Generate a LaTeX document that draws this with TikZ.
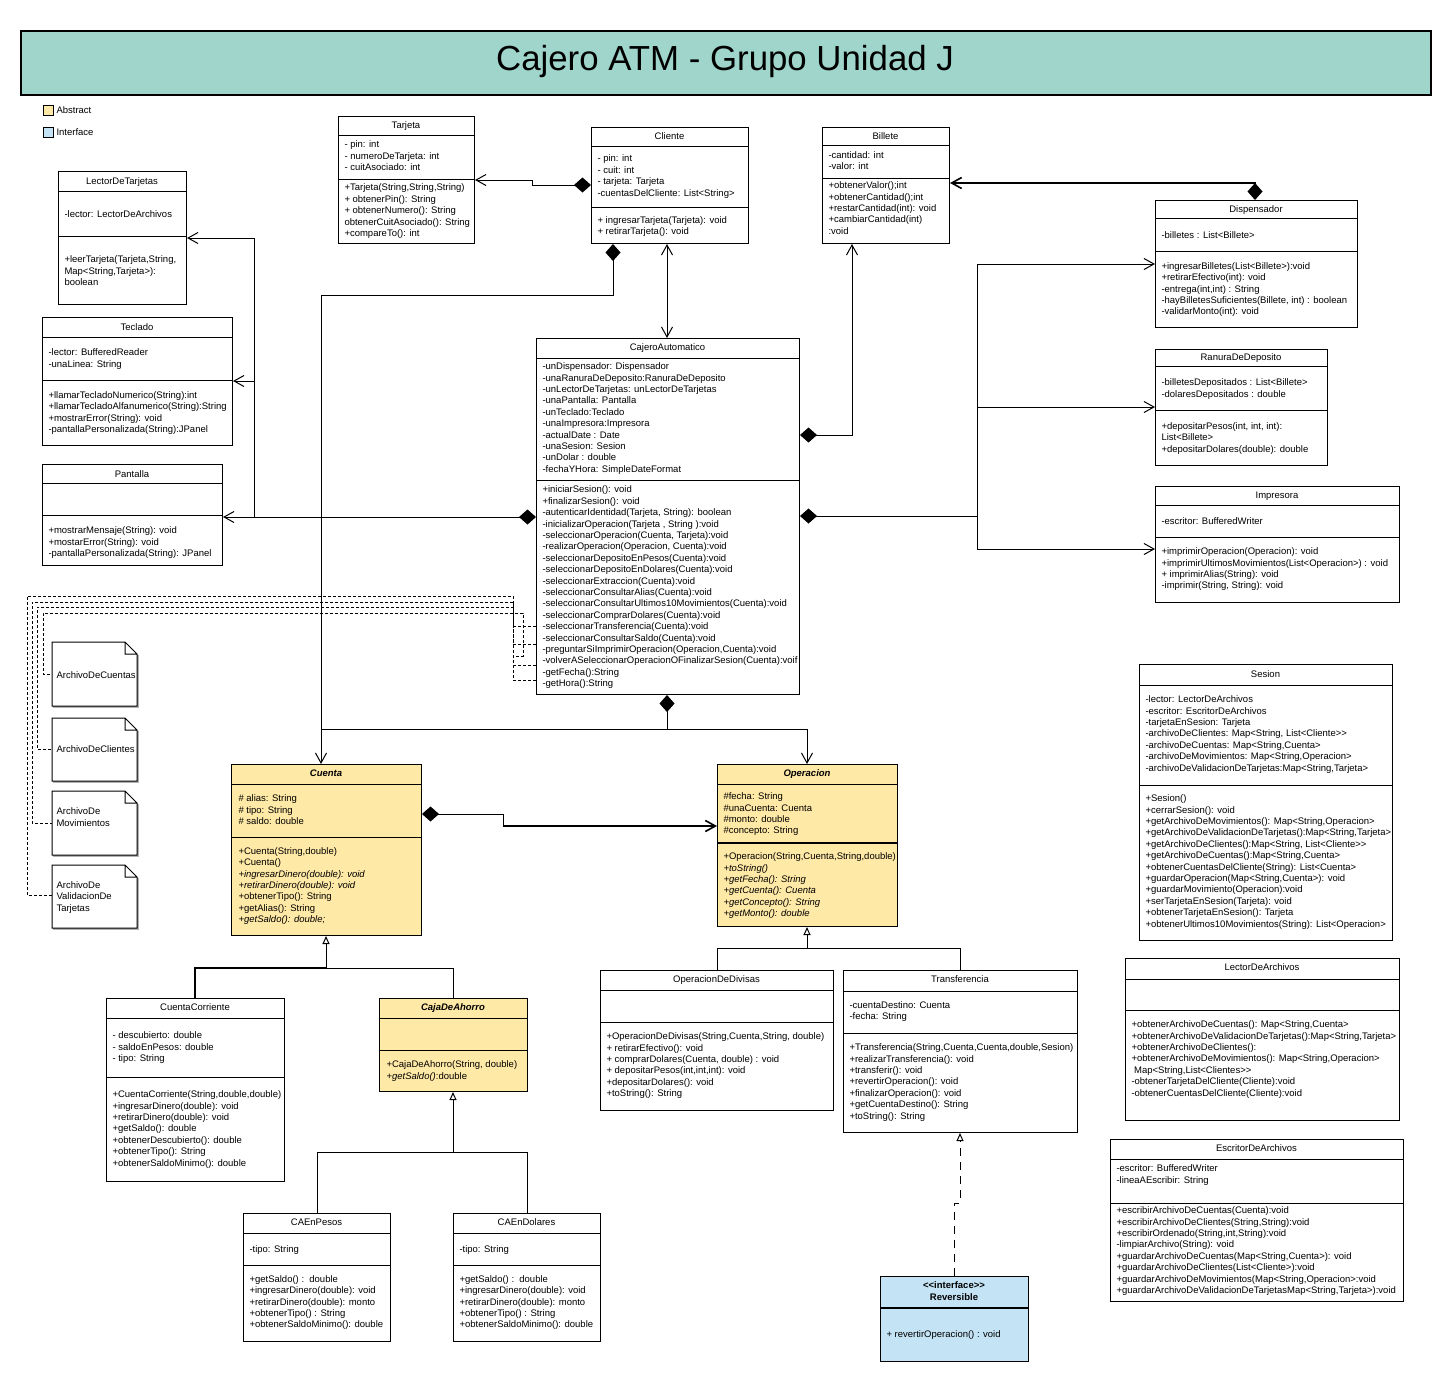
\documentclass[tikz,border=0pt]{standalone}
\usepackage{fontspec}
\setmainfont{Liberation Sans}
\usetikzlibrary{arrows.meta}

\definecolor{titlecol}{HTML}{9FD5CB}
\definecolor{abstractcol}{HTML}{FFE9A6}
\definecolor{interfacecol}{HTML}{C4E3F5}

% clase: nombre, relleno, x1, y1, x2, y2, separador 1, separador 2
\newcommand{\umlclass}[8]{%
  \node (#1) at (#3,#4) [classbox, fill=#2, minimum width={(#5-#3)*1pt}, minimum height={(#6-#4)*1pt}] {};
  \draw (#3,#7) -- (#5,#7) (#3,#8) -- (#5,#8);
}
% archivo: nombre, x1, y1, x2, y2
\newcommand{\umlfile}[5]{%
  \node (#1) at (#2,#3) [classbox, draw=none, minimum width={(#4-#2)*1pt}, minimum height={(#5-#3)*1pt}] {};
  \draw[filesh] (#4+1,#3+13) -- (#4+1,#5+1) -- (#2+1,#5+1);
  \draw (#2,#3) -- (#4-12,#3) -- (#4,#3+12) -- (#4,#5) -- (#2,#5) -- cycle
        (#4-12,#3) -- (#4-12,#3+12) -- (#4,#3+12);
}

\begin{document}
\begin{tikzpicture}[x=1pt, y=-1pt, line width=1pt,
  font=\fontsize{9.5}{11.4}\selectfont,
  classbox/.style={rectangle, draw, anchor=north west, inner sep=0pt},
  cname/.style={anchor=base, inner sep=0pt, yshift=-3.3pt},
  members/.style={anchor=north west, inner sep=0pt, align=left, yshift=3.7pt, execute at begin node=\strut},
  stereo/.style={anchor=north, inner sep=0pt, align=center, yshift=3.7pt, execute at begin node=\strut, font=\fontsize{9.5}{11.4}\selectfont\bfseries},
  comp/.style={{Diamond[length=17pt,width=15pt]}-{Straight Barb[length=10pt,width=11pt]}},
  diam/.style={{Diamond[length=17pt,width=15pt]}-},
  assoc/.style={-{Straight Barb[length=10pt,width=11pt]}},
  bothassoc/.style={{Straight Barb[length=10pt,width=11pt]}-{Straight Barb[length=10pt,width=11pt]}},
  inherit/.style={-{Triangle[open,length=8pt,width=7pt]}},
  realize/.style={inherit, dash pattern=on 8pt off 6pt},
  dep/.style={dash pattern=on 3pt off 2pt},
  filesh/.style={draw=black!30, line width=1.5pt}]

\useasboundingbox[fill=white] (0,0) rectangle (1451,1382);

% titulo y leyenda
\node (titlebar) at (20,30) [classbox, fill=titlecol, line width=1.5pt, minimum width=1410pt, minimum height=64pt] {};
\node (title) at (725,70) [anchor=base, inner sep=0pt] {\fontsize{34.8}{40}\selectfont Cajero ATM - Grupo Unidad J};
\node (abstractkey) at (43,105) [classbox, fill=abstractcol, minimum size=10pt, line width=0.8pt] {};
\node (abstractlbl) at (56,110) [anchor=west, inner sep=0pt] {Abstract};
\node (interfacekey) at (43,127) [classbox, fill=interfacecol, minimum size=10pt, line width=0.8pt] {};
\node (interfacelbl) at (56,132) [anchor=west, inner sep=0pt] {Interface};

% Tarjeta
\umlclass{tarjeta}{white}{338}{116}{474}{243}{135}{179}
\node (tarjeta-n) at (406,125.5) [cname] {Tarjeta};
\node (tarjeta-a) at (344,144) [members] {- pin: int\\- numeroDeTarjeta: int\\- cuitAsociado: int};
\node (tarjeta-m) at (344,187.3) [members] {+Tarjeta(String,String,String)\\+ obtenerPin(): String\\+ obtenerNumero(): String\\obtenerCuitAsociado(): String\\+compareTo(): int};

% LectorDeTarjetas
\umlclass{lectortarjetas}{white}{58}{171}{186}{304}{191}{236}
\node (lectortarjetas-n) at (122,181) [cname] {LectorDeTarjetas};
\node (lectortarjetas-a) at (64,213) [members] {-lector: LectorDeArchivos};
\node (lectortarjetas-m) at (64,259.3) [members] {+leerTarjeta(Tarjeta,String,\\Map<String,Tarjeta>):\\boolean};

% Cliente
\umlclass{cliente}{white}{591}{127}{748}{243}{146}{207}
\node (cliente-n) at (669.5,136) [cname] {Cliente};
\node (cliente-a) at (597,158.3) [members] {- pin: int\\- cuit: int\\- tarjeta: Tarjeta\\-cuentasDelCliente: List<String>};
\node (cliente-m) at (597,219.5) [members] {+ ingresarTarjeta(Tarjeta): void\\+ retirarTarjeta(): void};

% Billete
\umlclass{billete}{white}{822}{127}{949}{243}{145.5}{178.5}
\node (billete-n) at (885.5,136) [cname] {Billete};
\node (billete-a) at (828,154.5) [members] {-cantidad: int\\-valor: int};
\node (billete-m) at (828,185) [members] {+obtenerValor();int\\+obtenerCantidad();int\\+restarCantidad(int): void\\+cambiarCantidad(int)\\:void};

% Dispensador
\umlclass{dispensador}{white}{1155}{200}{1357}{327}{218.5}{251.5}
\node (dispensador-n) at (1256,209) [cname] {Dispensador};
\node (dispensador-a) at (1161,233.7) [members] {-billetes : List<Billete>};
\node (dispensador-m) at (1161,265.7) [members] {+ingresarBilletes(List<Billete>):void\\+retirarEfectivo(int): void\\-entrega(int,int) : String\\-hayBilletesSuficientes(Billete, int) : boolean\\-validarMonto(int): void};

% RanuraDeDeposito
\umlclass{ranura}{white}{1155}{349}{1327}{465}{366}{410}
\node (ranura-n) at (1241,357) [cname] {RanuraDeDeposito};
\node (ranura-a) at (1161,382.3) [members] {-billetesDepositados : List<Billete>\\-dolaresDepositados : double};
\node (ranura-m) at (1161,425.7) [members] {+depositarPesos(int, int, int):\\List<Billete>\\+depositarDolares(double): double};

% Impresora
\umlclass{impresora}{white}{1155}{486}{1399}{602}{505}{537}
\node (impresora-n) at (1277,495) [cname] {Impresora};
\node (impresora-a) at (1161,520) [members] {-escritor: BufferedWriter};
\node (impresora-m) at (1161,551) [members] {+imprimirOperacion(Operacion): void\\+imprimirUltimosMovimientos(List<Operacion>) : void\\+ imprimirAlias(String): void\\-imprimir(String, String): void};

% Teclado
\umlclass{teclado}{white}{42}{317}{232}{445}{337.5}{380.5}
\node (teclado-n) at (137,327) [cname] {Teclado};
\node (teclado-a) at (48,352) [members] {-lector: BufferedReader\\-unaLinea: String};
\node (teclado-m) at (48,394.7) [members] {+llamarTecladoNumerico(String):int\\+llamarTecladoAlfanumerico(String):String\\+mostrarError(String): void\\-pantallaPersonalizada(String):JPanel};

% Pantalla
\umlclass{pantalla}{white}{42}{464}{222}{565}{483.5}{515.5}
\node (pantalla-n) at (132,474) [cname] {Pantalla};
\node (pantalla-m) at (48,530) [members] {+mostrarMensaje(String): void\\+mostarError(String): void\\-pantallaPersonalizada(String): JPanel};

% CajeroAutomatico
\umlclass{cajero}{white}{536}{338}{799}{694}{358.5}{480.5}
\node (cajero-n) at (667.5,347) [cname] {CajeroAutomatico};
\node (cajero-a) at (542,366) [members] {-unDispensador: Dispensador\\-unaRanuraDeDeposito:RanuraDeDeposito\\-unLectorDeTarjetas: unLectorDeTarjetas\\-unaPantalla: Pantalla\\-unTeclado:Teclado\\-unaImpresora:Impresora\\-actualDate : Date\\-unaSesion: Sesion\\-unDolar : double\\-fechaYHora: SimpleDateFormat};
\node (cajero-m) at (542,489.3) [members] {+iniciarSesion(): void\\+finalizarSesion(): void\\-autenticarIdentidad(Tarjeta, String): boolean\\-inicializarOperacion(Tarjeta , String ):void\\-seleccionarOperacion(Cuenta, Tarjeta):void\\-realizarOperacion(Operacion, Cuenta):void\\-seleccionarDepositoEnPesos(Cuenta):void\\-seleccionarDepositoEnDolares(Cuenta):void\\-seleccionarExtraccion(Cuenta):void\\-seleccionarConsultarAlias(Cuenta):void\\-seleccionarConsultarUltimos10Movimientos(Cuenta):void\\-seleccionarComprarDolares(Cuenta):void\\-seleccionarTransferencia(Cuenta):void\\-seleccionarConsultarSaldo(Cuenta):void\\-preguntarSiImprimirOperacion(Operacion,Cuenta):void\\-volverASeleccionarOperacionOFinalizarSesion(Cuenta):voif\\-getFecha():String\\-getHora():String};

% Sesion
\umlclass{sesion}{white}{1139}{664}{1392}{940}{685}{785}
\node (sesion-n) at (1265.5,674) [cname] {Sesion};
\node (sesion-a) at (1145,699) [members] {-lector: LectorDeArchivos\\-escritor: EscritorDeArchivos\\-tarjetaEnSesion: Tarjeta\\-archivoDeClientes: Map<String, List<Cliente>{}>\\-archivoDeCuentas: Map<String,Cuenta>\\-archivoDeMovimientos: Map<String,Operacion>\\-archivoDeValidacionDeTarjetas:Map<String,Tarjeta>};
\node (sesion-m) at (1145,798) [members] {+Sesion()\\+cerrarSesion(): void\\+getArchivoDeMovimientos(): Map<String,Operacion>\\+getArchivoDeValidacionDeTarjetas():Map<String,Tarjeta>\\+getArchivoDeClientes():Map<String, List<Cliente>{}>\\+getArchivoDeCuentas():Map<String,Cuenta>\\+obtenerCuentasDelCliente(String): List<Cuenta>\\+guardarOperacion(Map<String,Cuenta>): void\\+guardarMovimiento(Operacion):void\\+serTarjetaEnSesion(Tarjeta): void\\+obtenerTarjetaEnSesion(): Tarjeta\\+obtenerUltimos10Movimientos(String): List<Operacion>};

% LectorDeArchivos
\umlclass{lectorarchivos}{white}{1125}{958}{1399}{1120}{979}{1010}
\node (lectorarchivos-n) at (1262,967) [cname] {LectorDeArchivos};
\node (lectorarchivos-m) at (1131,1024) [members] {+obtenerArchivoDeCuentas(): Map<String,Cuenta>\\+obtenerArchivoDeValidacionDeTarjetas():Map<String,Tarjeta>\\+obtenerArchivoDeClientes():\\+obtenerArchivoDeMovimientos(): Map<String,Operacion>\\\ Map<String,List<Clientes>{}>\\-obtenerTarjetaDelCliente(Cliente):void\\-obtenerCuentasDelCliente(Cliente):void};

% EscritorDeArchivos
\umlclass{escritor}{white}{1110}{1139}{1403}{1301}{1159}{1203}
\node (escritor-n) at (1256.5,1148) [cname] {EscritorDeArchivos};
\node (escritor-a) at (1116,1168) [members] {-escritor: BufferedWriter\\-lineaAEscribir: String};
\node (escritor-m) at (1116,1210) [members] {+escribirArchivoDeCuentas(Cuenta):void\\+escribirArchivoDeClientes(String,String):void\\+escribirOrdenado(String,int,String):void\\-limpiarArchivo(String): void\\+guardarArchivoDeCuentas(Map<String,Cuenta>): void\\+guardarArchivoDeClientes(List<Cliente>):void\\+guardarArchivoDeMovimientos(Map<String,Operacion>:void\\+guardarArchivoDeValidacionDeTarjetasMap<String,Tarjeta>):void};

% Cuenta
\umlclass{cuenta}{abstractcol}{231}{764}{421}{935}{784}{837.5}
\node (cuenta-n) at (326,773.5) [cname] {\bfseries\itshape Cuenta};
\node (cuenta-a) at (238,798.3) [members] {\# alias: String\\\# tipo: String\\\# saldo: double};
\node (cuenta-m) at (238,850.7) [members] {+Cuenta(String,double)\\+Cuenta()\\\textit{+ingresarDinero(double): void}\\\textit{+retirarDinero(double): void}\\+obtenerTipo(): String\\+getAlias(): String\\\textit{+getSaldo(): double;}};

% Operacion
\umlclass{operacion}{abstractcol}{717}{764}{897}{926}{784}{843}
\draw[line width=2pt] (717,843) -- (897,843);
\node (operacion-n) at (807,773.5) [cname] {\bfseries\itshape Operacion};
\node (operacion-a) at (723,796) [members] {\#fecha: String\\\#unaCuenta: Cuenta\\\#monto: double\\\#concepto: String};
\node (operacion-m) at (723,856) [members] {+Operacion(String,Cuenta,String,double)\\\textit{+toString()}\\\textit{+getFecha(): String}\\\textit{+getCuenta(): Cuenta}\\\textit{+getConcepto(): String}\\\textit{+getMonto(): double}};

% CuentaCorriente
\umlclass{corriente}{white}{106}{998}{284}{1181}{1018}{1077.5}
\node (corriente-n) at (195,1007) [cname] {CuentaCorriente};
\node (corriente-a) at (112,1035) [members] {- descubierto: double\\- saldoEnPesos: double\\- tipo: String};
\node (corriente-m) at (112,1094) [members] {+CuentaCorriente(String,double,double)\\+ingresarDinero(double): void\\+retirarDinero(double): void\\+getSaldo(): double\\+obtenerDescubierto(): double\\+obtenerTipo(): String\\+obtenerSaldoMinimo(): double};

% CajaDeAhorro
\umlclass{ahorro}{abstractcol}{379}{998}{527}{1091}{1018}{1050}
\node (ahorro-n) at (453,1007) [cname] {\bfseries\itshape CajaDeAhorro};
\node (ahorro-m) at (386,1064) [members] {+CajaDeAhorro(String, double)\\+\textit{getSaldo()}:double};

% CAEnPesos
\umlclass{pesos}{white}{243}{1213}{390}{1341}{1233}{1265}
\node (pesos-n) at (316.5,1222) [cname] {CAEnPesos};
\node (pesos-a) at (249,1248) [members] {-tipo: String};
\node (pesos-m) at (249,1278.5) [members] {+getSaldo() :\ \ double\\+ingresarDinero(double): void\\+retirarDinero(double): monto\\+obtenerTipo() : String\\+obtenerSaldoMinimo(): double};

% CAEnDolares
\umlclass{dolares}{white}{453}{1213}{600}{1341}{1233}{1265}
\node (dolares-n) at (526.5,1222) [cname] {CAEnDolares};
\node (dolares-a) at (459,1248) [members] {-tipo: String};
\node (dolares-m) at (459,1278.5) [members] {+getSaldo() :\ \ double\\+ingresarDinero(double): void\\+retirarDinero(double): monto\\+obtenerTipo() : String\\+obtenerSaldoMinimo(): double};

% OperacionDeDivisas
\umlclass{divisas}{white}{600}{970}{833}{1110}{990}{1022}
\node (divisas-n) at (716.5,979.5) [cname] {OperacionDeDivisas};
\node (divisas-m) at (606,1036) [members] {+OperacionDeDivisas(String,Cuenta,String, double)\\+ retirarEfectivo(): void\\+ comprarDolares(Cuenta, double) : void\\+ depositarPesos(int,int,int): void\\+depositarDolares(): void\\+toString(): String};

% Transferencia
\umlclass{transferencia}{white}{843}{970}{1077}{1132}{991}{1033}
\node (transferencia-n) at (960,979.5) [cname] {Transferencia};
\node (transferencia-a) at (849,1004.5) [members] {-cuentaDestino: Cuenta\\-fecha: String};
\node (transferencia-m) at (849,1047) [members] {+Transferencia(String,Cuenta,Cuenta,double,Sesion)\\+realizarTransferencia(): void\\+transferir(): void\\+revertirOperacion(): void\\+finalizarOperacion(): void\\+getCuentaDestino(): String\\+toString(): String};

% Reversible
\node (reversible) at (880,1276) [classbox, fill=interfacecol, minimum width=148pt, minimum height=85pt] {};
\draw[line width=2pt] (880,1308) -- (1028,1308);
\node (reversible-n) at (954,1285) [stereo] {<{}<interface>{}>\\Reversible};
\node (reversible-m) at (886,1333) [members] {+ revertirOperacion() : void};

% archivos
\umlfile{archcuentas}{52}{642}{137}{706}
\node (archcuentas-t) at (56,673.3) [members] {ArchivoDeCuentas};
\umlfile{archclientes}{52}{718}{137}{781}
\node (archclientes-t) at (56,748) [members] {ArchivoDeClientes};
\umlfile{archmov}{52}{791}{137}{855}
\node (archmov-t) at (56,811) [members] {ArchivoDe\\Movimientos};
\umlfile{archvalid}{52}{865}{137}{928}
\node (archvalid-t) at (56,884.7) [members] {ArchivoDe\\ValidacionDe\\Tarjetas};

% relaciones
\draw[comp] (cliente.west |- 0,185) -- (532,185) -- (532,180) -- (tarjeta.east |- 0,180);
\draw[comp] (cliente.south -| 613,0) -- (613,295) -- (321,295) -- (cuenta.north -| 321,0);
\draw[bothassoc] (cliente.south -| 667,0) -- (cajero.north -| 667,0);
\draw[comp] (cajero.east |- 0,435) -- (852,435) -- (billete.south -| 852,0);
\draw[comp, line width=1.6pt] (dispensador.north -| 1255,0) -- (1255,183) -- (billete.east |- 0,183);

\draw[diam] (cajero.east |- 0,516) -- (977,516);
\draw[assoc] (977,516) -- (977,264) -- (dispensador.west |- 0,264);
\draw[assoc] (977,407) -- (ranura.west |- 0,407);
\draw[assoc] (977,516) -- (977,549) -- (impresora.west |- 0,549);

\draw[comp] (cajero.west |- 0,517) -- (pantalla.east |- 0,517);
\draw[assoc] (254,517) -- (254,381) -- (teclado.east |- 0,381);
\draw[assoc] (254,381) -- (254,238) -- (lectortarjetas.east |- 0,238);

\draw[diam] (cajero.south -| 667,0) -- (667,729);
\draw (667,729) -- (321,729);
\draw[assoc] (667,729) -- (807,729) -- (operacion.north -| 807,0);

\draw[diam] (cuenta.east |- 0,814) -- (503,814) -- (503,826);
\draw[assoc, line width=1.6pt] (503,826) -- (operacion.west |- 0,826);

\draw[line width=1.8pt] (corriente.north -| 195,0) -- (195,968) -- (326,968);
\draw (326,968) -- (453,968) -- (ahorro.north -| 453,0);
\draw[inherit] (326,968) -- (cuenta.south -| 326,0);
\draw (pesos.north -| 317,0) -- (317,1152) -- (527,1152) -- (dolares.north -| 527,0);
\draw[inherit] (453,1152) -- (ahorro.south -| 453,0);
\draw (divisas.north -| 717,0) -- (717,948) -- (960,948) -- (transferencia.north -| 960,0);
\draw[inherit] (807,948) -- (operacion.south -| 807,0);
\draw[realize] (reversible.north -| 954,0) -- (954,1203) -- (960,1203) -- (transferencia.south -| 960,0);

% dependencias de archivos
\draw[dep] (cajero.west |- 0,626) -- (513,626) -- (513,596) -- (27,596) -- (27,895) -- (archvalid.west |- 0,895);
\draw[dep] (cajero.west |- 0,644) -- (513,644) -- (513,602) -- (32,602) -- (32,823) -- (archmov.west |- 0,823);
\draw[dep] (cajero.west |- 0,665) -- (513,665) -- (513,607) -- (37,607) -- (37,749) -- (archclientes.west |- 0,749);
\draw[dep] (cajero.west |- 0,680) -- (513,680) -- (513,656) -- (523,656) -- (523,613) -- (43,613) -- (43,674) -- (archcuentas.west |- 0,674);
\end{tikzpicture}
\end{document}
